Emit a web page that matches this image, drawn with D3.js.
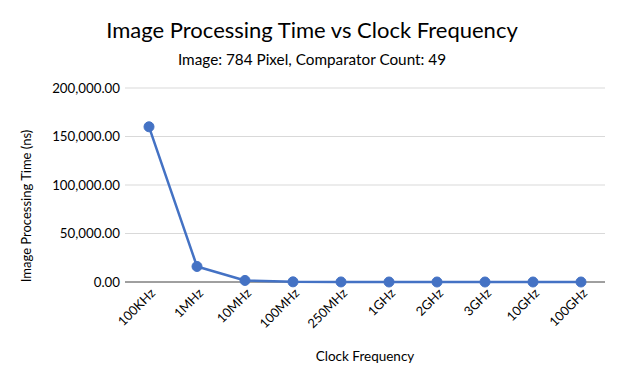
<!DOCTYPE html>
<html><head><meta charset="utf-8">
<script src="https://cdn.jsdelivr.net/npm/d3@7"></script>
<style>body{margin:0;background:#fff;} text{font-family:Lato, "Open Sans", sans-serif;fill:#000;}</style>
</head><body>
<svg id="c" width="624" height="384"></svg>
<script>
const categories = ["100KHz","1MHz","10MHz","100MHz","250MHz","1GHz","2GHz","3GHz","10GHz","100GHz"];
const timesNs = [160000, 16000, 1600, 160, 64, 16, 8, 5.33, 1.6, 0.16];
const yTicks = [0, 50000, 100000, 150000, 200000];

const svg = d3.select("#c");
const m = {left:125, right:605, top:88, bottom:282};
const x = d3.scaleBand().domain(categories).range([m.left, m.right]);
const y = d3.scaleLinear().domain([0, 200000]).range([m.bottom, m.top]);
const fmt = d3.format(",.2f");

svg.append("g").selectAll("line").data(yTicks.filter(d=>d>0)).join("line")
  .attr("x1", m.left).attr("x2", m.right)
  .attr("y1", d=>y(d)).attr("y2", d=>y(d))
  .attr("stroke", "#d9d9d9").attr("stroke-width", 1);

svg.append("line").attr("x1", m.left).attr("x2", m.right)
  .attr("y1", y(0)).attr("y2", y(0)).attr("stroke", "#404040").attr("stroke-width", 1);

svg.append("g").selectAll("text").data(yTicks).join("text")
  .attr("x", m.left - 5).attr("y", d=>y(d)).attr("dy", "0.35em")
  .attr("text-anchor", "end").attr("font-size", 13.3).text(d=>fmt(d));

svg.append("g").selectAll("text").data(categories).join("text")
  .attr("transform", d=>`translate(${x(d)+x.bandwidth()/2+7},${y(0)+12}) rotate(-45)`)
  .attr("text-anchor", "end").attr("font-size", 12.8).text(d=>d);

const cx = d=>x(d)+x.bandwidth()/2;
const pts = categories.map((c,i)=>({c, v:timesNs[i]}));
svg.append("path").datum(pts)
  .attr("d", d3.line().x(d=>cx(d.c)).y(d=>y(d.v)))
  .attr("fill","none").attr("stroke","#4472C4").attr("stroke-width",2.5).attr("stroke-linejoin","round");
svg.append("g").selectAll("circle").data(pts).join("circle")
  .attr("cx", d=>cx(d.c)).attr("cy", d=>y(d.v)).attr("r", 5)
  .attr("fill","#4472C4").attr("stroke","#4472C4");

svg.append("text").attr("x", 312).attr("y", 38).attr("text-anchor","middle")
  .attr("font-size", 22).text("Image Processing Time vs Clock Frequency");
svg.append("text").attr("x", 312).attr("y", 65).attr("text-anchor","middle")
  .attr("font-size", 15.3).text("Image: 784 Pixel, Comparator Count: 49");
svg.append("text").attr("x", 365).attr("y", 361).attr("text-anchor","middle")
  .attr("font-size", 13.5).text("Clock Frequency");
svg.append("text").attr("transform","translate(31,206) rotate(-90)").attr("text-anchor","middle")
  .attr("font-size", 13).text("Image Processing Time (ns)");
</script>
</body></html>
